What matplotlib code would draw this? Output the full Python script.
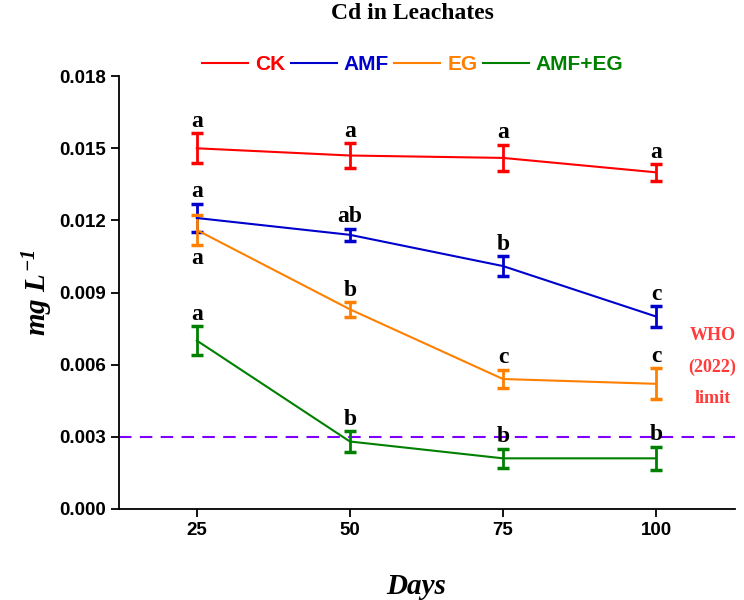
import matplotlib
matplotlib.use('Agg')
import matplotlib.pyplot as plt

plt.rcParams['mathtext.fontset'] = 'custom'
plt.rcParams['mathtext.it'] = 'Liberation Serif:italic:bold'
plt.rcParams['mathtext.rm'] = 'Liberation Serif:italic:bold'

days = [25, 50, 75, 100]
series = ['CK', 'AMF', 'EG', 'AMF+EG']
colors = ['#ff0000', '#0000cc', '#ff8000', '#008000']

ck = [0.0150, 0.0147, 0.0146, 0.0140]
ck_err = [0.00062, 0.0005, 0.00055, 0.00035]
amf = [0.0121, 0.0114, 0.0101, 0.0080]
amf_err = [0.0006, 0.00025, 0.0004, 0.00043]
eg = [0.0116, 0.0083, 0.0054, 0.0052]
eg_err = [0.00063, 0.0003, 0.00038, 0.00065]
amf_eg = [0.0070, 0.0028, 0.0021, 0.0021]
amf_eg_err = [0.0006, 0.00043, 0.0004, 0.00048]

ck_letters = ['a', 'a', 'a', 'a']
amf_letters = ['a', 'ab', 'b', 'c']
eg_letters = ['a', 'b', 'c', 'c']
amf_eg_letters = ['a', 'b', 'b', 'b']

who_limit = 0.003

fig = plt.figure(figsize=(7.44, 6), dpi=100)
ax = fig.add_axes([0.16, 0.152, 0.828, 0.721])

values = [ck, amf, eg, amf_eg]
errors = [ck_err, amf_err, eg_err, amf_eg_err]
letters = [ck_letters, amf_letters, eg_letters, amf_eg_letters]

handles = []
for name, col, v, e in zip(series, colors, values, errors):
    ax.errorbar(days, v, yerr=e, color=col, lw=1.5, elinewidth=2,
                capsize=4, capthick=2.5, zorder=3)
    h, = ax.plot([], [], color=col, lw=1.5, label=name)
    handles.append(h)

letter_font = dict(family='Liberation Serif', fontweight='bold', fontsize=17,
                   color='black', ha='center')
for s, (v, e, labs) in enumerate(zip(values, errors, letters)):
    for i, d in enumerate(days):
        if s == 2 and i == 0:
            ax.annotate(labs[i], (d, v[i] - e[i]), xytext=(0, -2),
                        textcoords='offset points', va='top', **letter_font)
        else:
            ax.annotate(labs[i], (d, v[i] + e[i]), xytext=(0, 1),
                        textcoords='offset points', va='bottom', **letter_font)

ax.axhline(who_limit, color='#8000ff', lw=1.5, ls=(0, (6, 4)), zorder=2)
ax.text(109.2, 0.0059, 'WHO\n(2022)\nlimit', color='#ff3b3b',
        family='Liberation Serif', fontweight='bold', fontsize=13,
        ha='center', va='center', linespacing=2.1)

ax.set_xlim(12.3, 112.9)
ax.set_ylim(0, 0.018)
ax.set_xticks(days)
ax.set_yticks([0, 0.003, 0.006, 0.009, 0.012, 0.015, 0.018])
ax.set_yticklabels(['%.3f' % t for t in ax.get_yticks()])
for sp in ['top', 'right']:
    ax.spines[sp].set_visible(False)
for sp in ['left', 'bottom']:
    ax.spines[sp].set_linewidth(1.3)
ax.tick_params(direction='out', length=6, width=1.3, labelsize=13.5)
for lab in ax.get_xticklabels() + ax.get_yticklabels():
    lab.set_family('Liberation Sans')
    lab.set_fontweight('bold')

ax.set_xlabel('Days', family='Liberation Serif', fontstyle='italic',
              fontweight='bold', fontsize=21)
ax.xaxis.set_label_coords(0.483, -0.148)
ax.set_ylabel(r'$mg\ L^{-1}$', fontsize=21, labelpad=3)

fig.text(0.555, 0.978, 'Cd in Leachates', family='Liberation Serif',
         fontweight='bold', fontsize=17, ha='center', va='center')

leg = fig.legend(handles=handles, ncol=4, loc='center',
                 bbox_to_anchor=(0.555, 0.892), frameon=False,
                 handlelength=2.2, handletextpad=0.35, columnspacing=0.25,
                 prop={'family': 'Liberation Sans', 'weight': 'bold', 'size': 15})
for t, col in zip(leg.get_texts(), colors):
    t.set_color(col)

fig.savefig('out.png', dpi=100)
